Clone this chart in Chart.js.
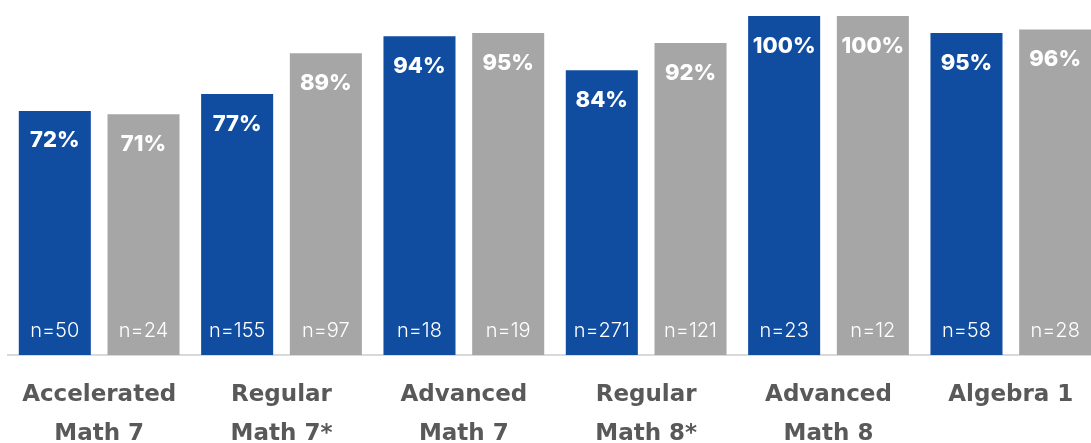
<!DOCTYPE html>
<html>
<head>
<meta charset="utf-8">
<script src="https://cdn.jsdelivr.net/npm/chart.js@4/dist/chart.umd.min.js"></script>
<style>
    html, body { margin: 0; padding: 0; background: #fff; }
    .wrap { width: 1091px; height: 443px; overflow: hidden; position: relative; }
    canvas { display: block; }
</style>
</head>
<body>
<div class="wrap">
    <canvas id="chartPass" width="1102" height="474"></canvas>
</div>
<script>
'use strict';

const categories = [
    ['Accelerated', 'Math 7'],
    ['Regular', 'Math 7*'],
    ['Advanced', 'Math 7'],
    ['Regular', 'Math 8*'],
    ['Advanced', 'Math 8'],
    ['Algebra 1'],
];
const blueVals = [72, 77, 94, 84, 100, 95];
const grayVals = [71, 89, 95, 92, 100, 96];
const blueN    = [50, 155, 18, 271, 23, 58];
const grayN    = [24, 97, 19, 121, 12, 28];

const BLUE = '#104DA0';
const GRAY = '#A6A6A6';
const FONT = "'Inter', 'Noto Sans', sans-serif";
const CAT_FONT = "'DejaVu Sans', sans-serif";

// percent at the top of each bar, n= count at the bottom
const barLabels = {
    id: 'barLabels',
    afterDatasetsDraw(chart) {
        const ctx = chart.ctx;
        const base = chart.chartArea.bottom;
        const counts = [blueN, grayN];
        ctx.save();
        ctx.fillStyle = '#fff';
        ctx.textAlign = 'center';
        ctx.textBaseline = 'middle';
        chart.data.datasets.forEach((ds, di) => {
            chart.getDatasetMeta(di).data.forEach((bar, i) => {
                ctx.font = `800 22px ${FONT}`;
                ctx.fillText(ds.data[i] + '%', bar.x, bar.y + 30);
                ctx.font = `300 20px ${FONT}`;
                ctx.fillText('n=' + counts[di][i], bar.x, base - 24);
            });
        });
        ctx.restore();
    }
};

new Chart(document.getElementById('chartPass'), {
    type: 'bar',
    data: {
        labels: categories,
        datasets: [
            { label: 'A', data: blueVals, backgroundColor: BLUE },
            { label: 'B', data: grayVals, backgroundColor: GRAY },
        ]
    },
    options: {
        responsive: false,
        animation: false,
        devicePixelRatio: 1,
        categoryPercentage: 0.973,
        barPercentage: 0.812,
        layout: { padding: { left: 8, right: 0, top: 16, bottom: 0 } },
        plugins: { legend: { display: false }, tooltip: { enabled: false } },
        scales: {
            y: { display: false, min: 0, max: 100 },
            x: {
                grid: { display: false, drawTicks: false },
                border: { display: true, color: '#D9D9D9', width: 2 },
                ticks: {
                    color: '#595959',
                    padding: 20,
                    maxRotation: 0,
                    autoSkip: false,
                    font: { family: CAT_FONT, size: 23, weight: '700', lineHeight: 1.72 },
                }
            }
        }
    },
    plugins: [barLabels]
});
</script>
</body>
</html>
